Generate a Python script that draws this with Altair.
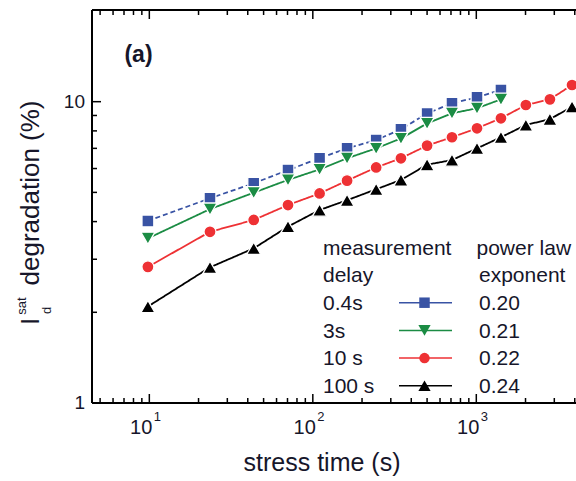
import altair as alt
import pandas as pd

# ---------------- data ----------------
times = [9.8, 23.5, 43.5, 70.5, 110, 162, 244, 346, 500, 710, 1010, 1415, 2010, 2820, 3850]
deg_04s = [4.02, 4.78, 5.36, 5.93, 6.49, 7.00, 7.46, 8.10, 9.14, 9.88, 10.34, 10.94]
deg_3s = [3.52, 4.40, 4.99, 5.50, 5.96, 6.49, 7.00, 7.55, 8.47, 9.15, 9.51, 10.18]
deg_10s = [2.83, 3.70, 4.05, 4.54, 4.96, 5.47, 6.05, 6.49, 7.15, 7.62, 8.16, 8.81, 9.75, 10.18, 11.36]
deg_100s = [2.09, 2.82, 3.26, 3.85, 4.37, 4.71, 5.12, 5.50, 6.18, 6.40, 7.00, 7.62, 8.37, 8.75, 9.62]

series_names = ["0.4s", "3s", "10 s", "100 s"]
exponents = ["0.20", "0.21", "0.22", "0.24"]
series_values = [deg_04s, deg_3s, deg_10s, deg_100s]

x_major = [10, 100, 1000]
x_major_exp = ["1", "2", "3"]
x_minor = [5, 6, 7, 8, 9, 20, 30, 40, 50, 60, 70, 80, 90,
           200, 300, 400, 500, 600, 700, 800, 900, 2000, 3000, 4000]
y_major = [1, 10]
y_major_labels = ["1", "10"]
y_minor = [2, 3, 4, 5, 6, 7, 8, 9]

# ---------------- styling ----------------
colors = ["#3953a4", "#1b8c44", "#ee3134", "#000000"]
shapes = ["square", "triangle-down", "circle", "triangle-up"]
sizes = [140, 200, 145, 200]
dashes = [[5, 3], [1, 0], [1, 0], [1, 0]]
FONT = "Liberation Sans"
TEXT = "#16162a"

W, H = 484, 393
xs = alt.Scale(type="log", domain=[4.46, 4072], nice=False)
ys = alt.Scale(type="log", domain=[1, 20.15], nice=False)

layers = []
one = pd.DataFrame({"a": [0]})

# frame: top, bottom, left
layers.append(alt.Chart(one).mark_rule(color="black", strokeWidth=2)
              .encode(x=alt.value(0), x2=alt.value(W), y=alt.value(0)))
layers.append(alt.Chart(one).mark_rule(color="black", strokeWidth=2)
              .encode(x=alt.value(0), x2=alt.value(W), y=alt.value(H)))
layers.append(alt.Chart(one).mark_rule(color="black", strokeWidth=2)
              .encode(x=alt.value(0), y=alt.value(0), y2=alt.value(H)))


# ticks (inward)
def tick_layer(vals, orient, length):
    d = pd.DataFrame({"v": vals})
    base = alt.Chart(d).mark_rule(color="black", strokeWidth=1.5)
    if orient == "left":
        return base.encode(y=alt.Y("v:Q", scale=ys, axis=None),
                           x=alt.value(0), x2=alt.value(length))
    if orient == "bottom":
        return base.encode(x=alt.X("v:Q", scale=xs, axis=None),
                           y=alt.value(H), y2=alt.value(H - length))
    return base.encode(x=alt.X("v:Q", scale=xs, axis=None),
                       y=alt.value(0), y2=alt.value(length))


layers += [tick_layer(y_minor, "left", 5), tick_layer([10], "left", 9),
           tick_layer(x_minor, "bottom", 5), tick_layer(x_major, "bottom", 9),
           tick_layer(x_minor, "top", 5), tick_layer(x_major, "top", 9)]

# series lines
for name, vals, c, dsh in zip(series_names, series_values, colors, dashes):
    d = pd.DataFrame({"time": times[:len(vals)], "deg": vals})
    layers.append(alt.Chart(d).mark_line(color=c, strokeWidth=1.8, strokeDash=dsh)
                  .encode(x=alt.X("time:Q", scale=xs, axis=None),
                          y=alt.Y("deg:Q", scale=ys, axis=None), order="time:Q"))

# series markers
for name, vals, c, shp, sz in zip(series_names, series_values, colors, shapes, sizes):
    d = pd.DataFrame({"time": times[:len(vals)], "deg": vals})
    layers.append(alt.Chart(d).mark_point(shape=shp, size=sz, filled=True, fill=c, opacity=1,
                                          stroke="white", strokeWidth=1.3)
                  .encode(x=alt.X("time:Q", scale=xs, axis=None),
                          y=alt.Y("deg:Q", scale=ys, axis=None)))

# x tick labels 10^n
layers.append(alt.Chart(pd.DataFrame({"v": x_major, "t": ["10"] * len(x_major)}))
              .mark_text(align="right", baseline="alphabetic", dx=3, font=FONT, fontSize=20, color=TEXT)
              .encode(x=alt.X("v:Q", scale=xs, axis=None), y=alt.value(423.5), text="t:N"))
layers.append(alt.Chart(pd.DataFrame({"v": x_major, "t": x_major_exp}))
              .mark_text(align="left", baseline="alphabetic", dx=4.5, font=FONT, fontSize=13, color=TEXT)
              .encode(x=alt.X("v:Q", scale=xs, axis=None), y=alt.value(411), text="t:N"))

# y tick labels
layers.append(alt.Chart(pd.DataFrame({"v": y_major, "t": y_major_labels}))
              .mark_text(align="right", baseline="middle", dx=-7, font=FONT, fontSize=19, color=TEXT)
              .encode(y=alt.Y("v:Q", scale=ys, axis=None), x=alt.value(0), text="t:N"))


def txt(s, x, y, size=21, align="left", angle=0, weight="normal"):
    return (alt.Chart(pd.DataFrame({"t": [s]}))
            .mark_text(align=align, baseline="alphabetic", font=FONT, fontSize=size,
                       fontWeight=weight, color=TEXT, angle=angle)
            .encode(text="t:N", x=alt.value(x), y=alt.value(y)))


# titles
layers.append(txt("stress time (s)", 230, 461, size=25, align="center"))
layers.append(txt("degradation (%)", -53, 183, size=26, align="center", angle=270))
layers.append(txt("I", -53, 311.5, size=26, align="center", angle=270))
layers.append(txt("sat", -66.5, 296, size=13, align="center", angle=270))
layers.append(txt("d", -41, 300.5, size=13, align="center", angle=270))
layers.append(txt("(a)", 46.5, 51.5, size=23, align="center", weight="bold"))

# legend
layers.append(txt("measurement", 231, 244.5))
layers.append(txt("delay", 231, 272))
layers.append(txt("power law", 384.5, 244.5))
layers.append(txt("exponent", 387, 272))
for i, (name, ex, c, shp) in enumerate(zip(series_names, exponents, colors, shapes)):
    yb = 300 + i * 27.7
    yc = yb - 7.3
    layers.append(txt(name, 231, yb))
    layers.append(txt(ex, 387, yb))
    layers.append(alt.Chart(one).mark_rule(color=c, strokeWidth=1.5)
                  .encode(x=alt.value(307), x2=alt.value(360), y=alt.value(yc)))
    layers.append(alt.Chart(one).mark_point(shape=shp, size=110 if shp in ("square", "circle") else 150,
                                            filled=True, fill=c, opacity=1, strokeWidth=0)
                  .encode(x=alt.value(332.5), y=alt.value(yc)))

chart = (alt.layer(*layers)
         .properties(width=W, height=H,
                     padding={"left": 92, "top": 10, "right": 0, "bottom": 78},
                     autosize=alt.AutoSizeParams(type="none"),
                     background="white")
         .configure_view(stroke=None))

chart.save("out.html", embed_options={"renderer": "svg", "actions": False})
